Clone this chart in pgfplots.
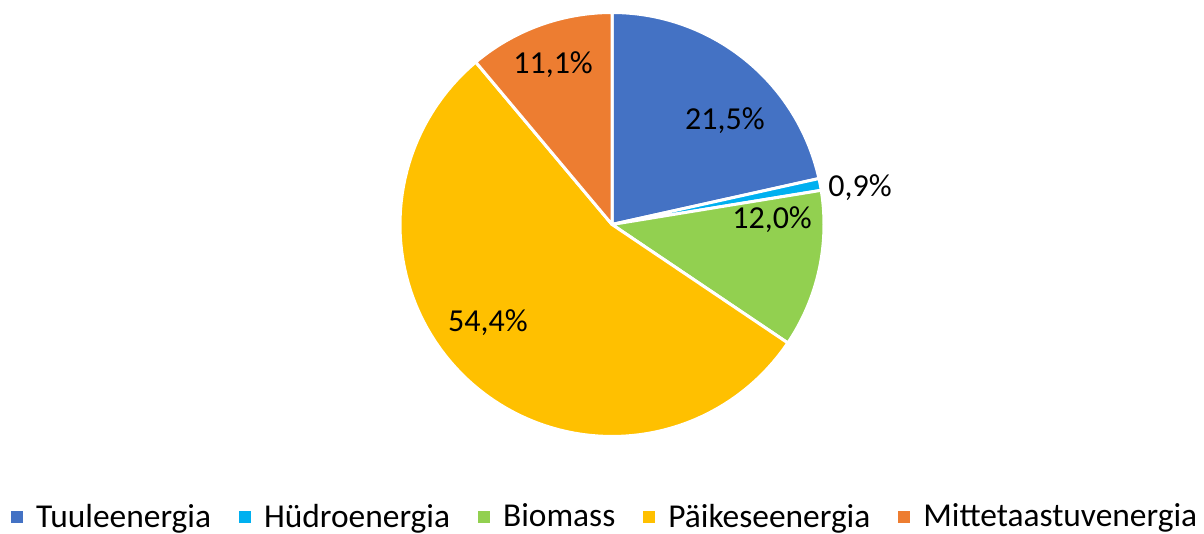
\documentclass[border=0pt]{standalone}
\usepackage{fontspec}
\setmainfont{Carlito}
\usepackage{pgfplots}
\usepackage{pgfplotstable}
\pgfplotsset{compat=1.18}

\definecolor{slice0}{HTML}{4472C4}
\definecolor{slice1}{HTML}{00B0F0}
\definecolor{slice2}{HTML}{92D050}
\definecolor{slice3}{HTML}{FFC000}
\definecolor{slice4}{HTML}{ED7D31}

% energy mix, percent
\pgfplotstableread{
label value
Tuuleenergia 21.5
Hudroenergia 0.9
Biomass 12.0
Paikeseenergia 54.4
Mittetaastuvenergia 11.1
}\piedata
\pgfplotstablecreatecol[create col/expr accum={\pgfmathaccuma + \thisrow{value}}{0}]{cum}\piedata
\pgfplotstablegetelem{4}{cum}\of\piedata
\let\pietotal\pgfplotsretval

\begin{document}
\fontsize{16}{19}\selectfont
\begin{tikzpicture}
\path[use as bounding box] (0,0) rectangle (602pt,267pt);
\begin{axis}[
  at={(306pt,154.75pt)}, anchor=center,
  scale only axis, width=212pt, height=212pt,
  xmin=-1, xmax=1, ymin=-1, ymax=1,
  hide axis, clip=false,
  legend columns=5,
  legend style={at={(rel axis cs:-0.918,-0.192)}, anchor=west,
    draw=none, fill=none, inner sep=0pt,
    nodes={inner sep=0pt, font=\fontsize{16.7}{19}\selectfont},
    /tikz/every odd column/.append style={column sep=6.5pt},
    /tikz/every even column/.append style={column sep=14pt}},
  legend image code/.code={\fill[#1, draw=none] (0pt,-2.5pt) rectangle (6pt,3.5pt);},
]
\pgfplotsinvokeforeach{0,...,4}{
  \pgfplotstablegetelem{#1}{value}\of\piedata \let\sv\pgfplotsretval
  \pgfplotstablegetelem{#1}{cum}\of\piedata \let\sc\pgfplotsretval
  \pgfmathsetmacro\sf{100/\pietotal}
  \pgfmathsetmacro\sa{90-3.6*(\sc-\sv)*\sf}
  \pgfmathsetmacro\sb{90-3.6*\sc*\sf}
  \edef\doslice{\noexpand\addplot[forget plot, fill=slice#1, draw=white,
    line width=1.5pt, line join=round, domain=\sb:\sa, samples=90,
    variable=\noexpand\t]
    ({cos(\noexpand\t)},{sin(\noexpand\t)}) -- (axis cs:0,0) -- cycle;}
  \doslice
}
\addlegendimage{fill=slice0}\addlegendentry{Tuuleenergia}
\addlegendimage{fill=slice1}\addlegendentry{Hüdroenergia}
\addlegendimage{fill=slice2}\addlegendentry{Biomass}
\addlegendimage{fill=slice3}\addlegendentry{Päikeseenergia}
\addlegendimage{fill=slice4}\addlegendentry{Mittetaastuvenergia}

\node at (axis cs:0.533,0.491) {21,5\%};
\node at (axis cs:1.170,0.175) {0,9\%};
\node at (axis cs:0.755,0.024) {12,0\%};
\node at (axis cs:-0.585,-0.462) {54,4\%};
\node at (axis cs:-0.278,0.755) {11,1\%};
\end{axis}
\end{tikzpicture}
\end{document}
